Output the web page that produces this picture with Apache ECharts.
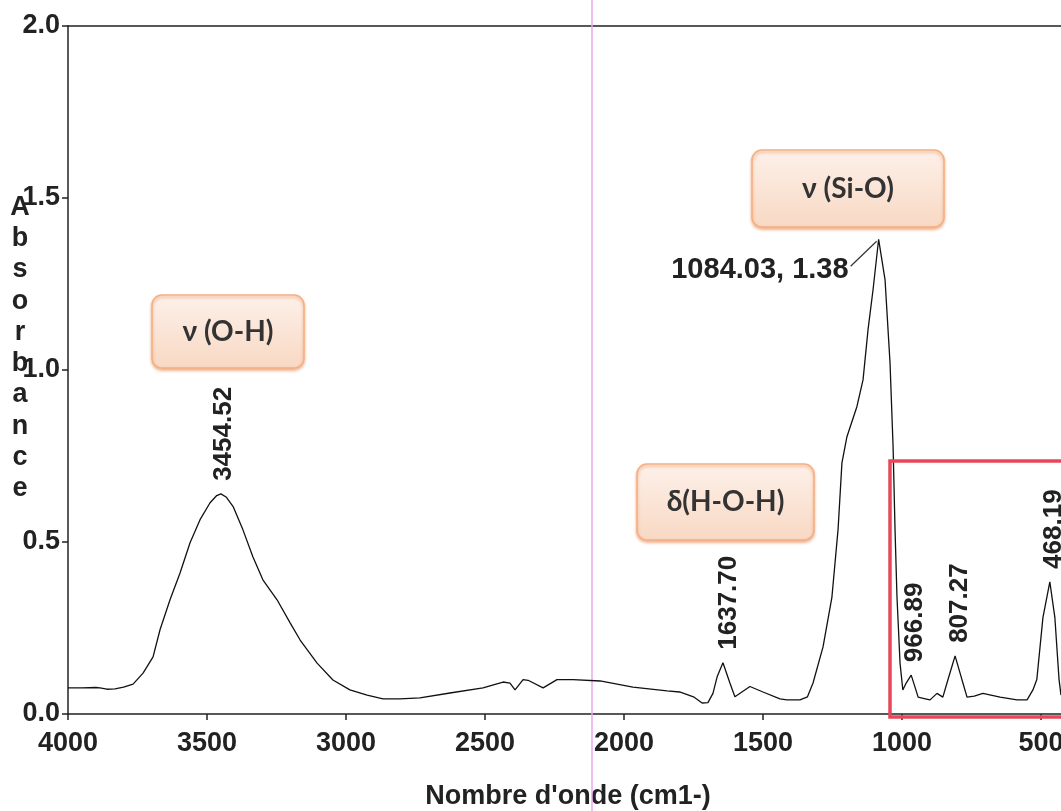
<!DOCTYPE html>
<html>
<head>
<meta charset="utf-8">
<script src="https://cdn.jsdelivr.net/npm/echarts@6/dist/echarts.min.js"></script>
<style>
html,body{margin:0;padding:0;background:#fff;}
#chart{width:1061px;height:811px;}
</style>
</head>
<body>
<div id="chart"></div>
<script>
// ---- data ----
const waveNumbers = [4000,3950,3900,3885,3860,3831,3800,3766,3730,3694,3669,3633,3597,3561,3525,3489,3465,3450,3430,3406,3371,3335,3299,3248,3201,3165,3104,3047,2986,2924,2867,2806,2734,2626,2507,2435,2410,2392,2363,2345,2291,2241,2183,2086,1968,1845,1800,1750,1719,1698,1680,1665,1644,1619,1601,1547,1500,1439,1414,1367,1340,1320,1284,1252,1230,1216,1198,1162,1140,1122,1104,1084.03,1061,1043,1032,1025,1018,1007,997,985,966.89,950,942,920,899,874,853,835,809,784,766,740,709,647,586,550,529,515,493,468.19,450,435,428];
const absorbance  = [0.076,0.076,0.077,0.076,0.072,0.073,0.078,0.087,0.119,0.166,0.245,0.332,0.410,0.498,0.565,0.614,0.635,0.640,0.630,0.603,0.536,0.457,0.390,0.332,0.265,0.215,0.148,0.099,0.070,0.055,0.044,0.044,0.047,0.061,0.076,0.093,0.090,0.070,0.100,0.098,0.076,0.100,0.100,0.096,0.078,0.067,0.064,0.050,0.032,0.033,0.060,0.108,0.149,0.090,0.050,0.080,0.064,0.044,0.041,0.041,0.050,0.090,0.195,0.340,0.536,0.730,0.806,0.894,0.972,1.118,1.234,1.380,1.263,1.020,0.777,0.536,0.340,0.148,0.070,0.090,0.113,0.070,0.049,0.045,0.041,0.060,0.049,0.099,0.169,0.099,0.049,0.052,0.060,0.049,0.041,0.041,0.070,0.100,0.280,0.384,0.280,0.100,0.055];

const peakWave   = [3454.52, 1637.70, 966.89, 807.27, 468.19];
const peakAbs    = [0.640, 0.149, 0.113, 0.169, 0.384];
const peakLabels = ['3454.52', '1637.70', '966.89', '807.27', '468.19'];

const mainPeakWave = 1084.03;
const mainPeakAbs = 1.38;
const mainPeakLabel = '1084.03, 1.38';

const bandLabels = ['\u03bd (O-H)', '\u03bd (Si-O)', '\u03b4(H-O-H)'];

const yTickValues = [0, 0.5, 1.0, 1.5, 2.0];
const xTickValues = [4000, 3500, 3000, 2500, 2000, 1500, 1000, 500];
const xMin = 428, xMax = 4000;

const xAxisTitle = "Nombre d'onde (cm1-)";
const yAxisTitle = 'Absorbance';

// ---- chart ----
const chart = echarts.init(document.getElementById('chart'), null, {renderer: 'canvas'});
const lineData = waveNumbers.map((w, i) => [w, absorbance[i]]);
const peakData = peakWave.map((w, i) => ({value: [w, peakAbs[i]], name: peakLabels[i]}));

const axisFont = {fontFamily: '"Liberation Sans", Arial, sans-serif', fontWeight: 'bold', fontSize: 27, color: '#222'};

chart.setOption({
  animation: false,
  backgroundColor: '#ffffff',
  grid: {left: 68, right: 0, top: 26, bottom: 97, show: false, containLabel: false, outerBoundsMode: 'none'},
  xAxis: [{
    type: 'value', min: xMin, max: xMax, inverse: true, position: 'bottom',
    splitLine: {show: false},
    axisLine: {show: true, lineStyle: {color: '#222', width: 1.5}},
    axisTick: {show: true, inside: false, length: 6, customValues: xTickValues, lineStyle: {color: '#222', width: 1.5}},
    axisLabel: Object.assign({margin: 16, customValues: xTickValues, hideOverlap: false, formatter: v => String(v)}, axisFont)
  }, {
    type: 'value', min: xMin, max: xMax, inverse: true, position: 'top',
    splitLine: {show: false},
    axisLine: {show: true, onZero: false, lineStyle: {color: '#222', width: 1.5}},
    axisTick: {show: false}, axisLabel: {show: false}
  }],
  yAxis: {
    type: 'value', min: yTickValues[0], max: yTickValues[yTickValues.length - 1], interval: 0.5,
    splitLine: {show: false},
    axisLine: {show: true, lineStyle: {color: '#222', width: 1.5}},
    axisTick: {show: true, inside: false, length: 6, lineStyle: {color: '#222', width: 1.5}},
    axisLabel: Object.assign({margin: 8, formatter: v => v.toFixed(1)}, axisFont)
  },
  series: [
    {
      type: 'line', data: lineData, showSymbol: false, symbol: 'none', smooth: false,
      lineStyle: {color: '#111', width: 1.3}, z: 3
    },
    {
      type: 'scatter', data: peakData, symbolSize: 0, z: 4,
      itemStyle: {opacity: 1},
      label: {
        show: true, position: 'top', distance: 13, offset: [0, 4], rotate: 90, align: 'left', verticalAlign: 'middle',
        formatter: p => p.name, opacity: 1,
        fontFamily: '"Liberation Sans", Arial, sans-serif', fontWeight: 'bold', fontSize: 26, color: '#222'
      }
    }
  ]
});

// ---- annotations ----
const pk = chart.convertToPixel({gridIndex: 0}, [mainPeakWave, mainPeakAbs]);

function bandBox(x, y, w, h, text) {
  return {
    type: 'group', children: [
      {
        type: 'rect', shape: {x: x, y: y, width: w, height: h, r: 10},
        style: {
          fill: new echarts.graphic.LinearGradient(0, 0, 0, 1, [
            {offset: 0, color: '#fdf1ea'}, {offset: 1, color: '#f8d8c3'}
          ]),
          stroke: '#f4b083', lineWidth: 1.5,
          shadowColor: 'rgba(230,120,60,0.55)', shadowBlur: 3, shadowOffsetY: 2
        }
      },
      {
        type: 'text', x: x + w / 2, y: y + h / 2,
        style: {
          text: text, fill: '#333', align: 'center', verticalAlign: 'middle',
          font: 'bold 28px Lato, "Open Sans", "Noto Sans", sans-serif'
        }
      }
    ]
  };
}

chart.setOption({
  graphic: [
    {type: 'line', shape: {x1: 592, y1: 0, x2: 592, y2: 811}, style: {stroke: '#e9a8ee', lineWidth: 1.5}, z: 1},
    {type: 'rect', shape: {x: 890, y: 461, width: 200, height: 256}, style: {fill: 'none', stroke: '#e8475a', lineWidth: 3.5}, z: 5},
    bandBox(152, 295, 152, 73, bandLabels[0]),
    bandBox(752, 150, 192, 77, bandLabels[1]),
    bandBox(637, 464, 177, 76, bandLabels[2]),
    {type: 'line', shape: {x1: pk[0] - 28, y1: pk[1] + 27, x2: pk[0] - 2, y2: pk[1] + 2}, style: {stroke: '#333', lineWidth: 1.2}, z: 5},
    {type: 'text', x: pk[0] - 30, y: pk[1] + 31,
      style: {text: mainPeakLabel, align: 'right', verticalAlign: 'middle', fill: '#222',
        font: 'bold 29px "Liberation Sans", Arial, sans-serif'}, z: 5},
    {type: 'text', x: 568, y: 797,
      style: {text: xAxisTitle, align: 'center', verticalAlign: 'middle', fill: '#222',
        font: 'bold 27px "Liberation Sans", Arial, sans-serif'}},
    {type: 'text', x: 20, y: 348,
      style: {text: yAxisTitle.split('').join('\n'), align: 'center', verticalAlign: 'middle', fill: '#222',
        lineHeight: 31.3, font: 'bold 27px "Liberation Sans", Arial, sans-serif'}}
  ]
});
</script>
</body>
</html>
